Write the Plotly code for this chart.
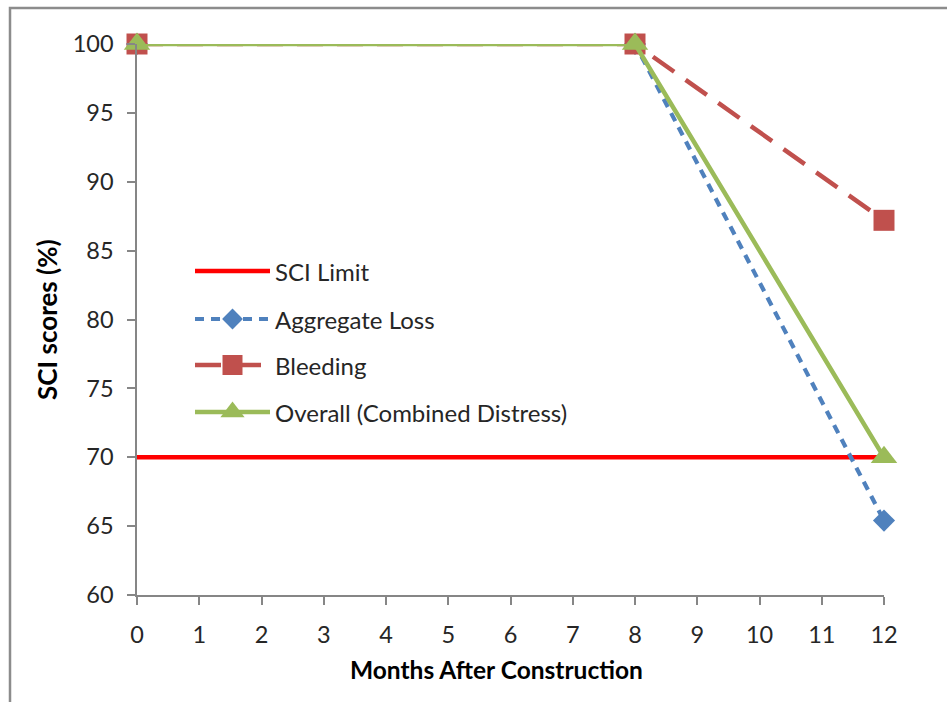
import plotly.graph_objects as go

# Survey data: months after construction and SCI scores (%)
months = [0, 8, 12]
aggregate_loss = [100, 100, 65.4]
bleeding = [100, 100, 87.2]
overall = [100, 100, 70]
sci_limit_months = [0, 12]
sci_limit = [70, 70]

x_ticks = list(range(0, 13))
y_ticks = list(range(60, 101, 5))

W, H = 947, 702
L, R, T, B = 137, 884, 44, 595  # plot area in pixels

FONT = "Lato, Carlito, Calibri, sans-serif"
AXIS_GRAY = "#868686"
TEXT = "#262626"

RED = "#FF0000"
BLUE = "#4F81BD"
BROWN = "#C0504D"
GREEN = "#9BBB59"

BLUE_DASH = "9px,7px"
BROWN_DASH = "26px,14px"

fig = go.Figure()

fig.add_trace(go.Scatter(x=sci_limit_months, y=sci_limit, mode="lines",
                         line=dict(color=RED, width=4.5), name="SCI Limit",
                         cliponaxis=False))
fig.add_trace(go.Scatter(x=months, y=aggregate_loss, mode="lines+markers",
                         line=dict(color=BLUE, width=4.2, dash=BLUE_DASH),
                         marker=dict(symbol="diamond", size=17, color=BLUE),
                         name="Aggregate Loss", cliponaxis=False))
fig.add_trace(go.Scatter(x=months, y=bleeding, mode="lines+markers",
                         line=dict(color=BROWN, width=4.5, dash=BROWN_DASH),
                         marker=dict(symbol="square", size=21, color=BROWN),
                         name="Bleeding", cliponaxis=False))
fig.add_trace(go.Scatter(x=months, y=overall, mode="lines+markers",
                         line=dict(color=GREEN, width=4.5),
                         marker=dict(symbol="triangle-up", size=23, color=GREEN),
                         name="Overall (Combined Distress)", cliponaxis=False))

# Legend drawn on an overlay axis spanning the plot area (0..1 in both directions)
def px_x(p):
    return (p - L) / (R - L)

def px_y(p):
    return (B - p) / (B - T)

legend_items = [
    ("SCI Limit", RED, 4.5, "solid", None, 0),
    ("Aggregate Loss", BLUE, 4.2, BLUE_DASH, "diamond", 16),
    ("Bleeding", BROWN, 4.5, BROWN_DASH, "square", 20),
    ("Overall (Combined Distress)", GREEN, 4.5, "solid", "triangle-up", 21),
]
legend_rows = [271, 319, 365, 412]
x0, x1, xt = 195, 270, 273
for (label, color, width, dash, symbol, size), row in zip(legend_items, legend_rows):
    fig.add_trace(go.Scatter(x=[px_x(x0), px_x(x1)], y=[px_y(row)] * 2,
                             mode="lines", line=dict(color=color, width=width, dash=dash),
                             xaxis="x2", yaxis="y2", showlegend=False, hoverinfo="skip"))
    if symbol:
        fig.add_trace(go.Scatter(x=[px_x((x0 + x1) / 2)], y=[px_y(row)], mode="markers",
                                 marker=dict(symbol=symbol, size=size, color=color),
                                 xaxis="x2", yaxis="y2", showlegend=False, hoverinfo="skip"))
    fig.add_annotation(x=px_x(xt), y=px_y(row), xref="x2", yref="y2", text=label,
                       showarrow=False, xanchor="left", yanchor="middle",
                       font=dict(family=FONT, size=24, color=TEXT))

# Axis titles
fig.add_annotation(x=px_x(496), y=px_y(669), xref="paper", yref="paper",
                   text="<b>Months After Construction</b>", showarrow=False,
                   xanchor="center", yanchor="middle",
                   font=dict(family=FONT, size=24.5, color="#000000"))
fig.add_annotation(x=px_x(47), y=px_y(320), xref="paper", yref="paper",
                   text="<b>SCI scores (%)</b>", showarrow=False, textangle=-90,
                   xanchor="center", yanchor="middle",
                   font=dict(family=FONT, size=26, color="#000000"))

# Outer chart frame
fig.add_shape(type="rect", xref="paper", yref="paper",
              x0=px_x(10), x1=px_x(W + 20), y0=px_y(H + 20), y1=px_y(8),
              line=dict(color="#8C8C8C", width=2.5), layer="below")

tick_font = dict(family=FONT, size=23.5, color=TEXT)
fig.update_layout(
    width=W, height=H,
    margin=dict(l=L, r=W - R, t=T, b=H - B),
    paper_bgcolor="white", plot_bgcolor="white",
    showlegend=False,
    font=dict(family=FONT, size=22, color=TEXT),
    xaxis=dict(range=[0, 12], tickvals=x_ticks, showgrid=False, zeroline=False,
               showline=True, linecolor=AXIS_GRAY, linewidth=1.5,
               ticks="outside", ticklen=8, tickcolor=AXIS_GRAY, tickwidth=1.5,
               ticklabelstandoff=10, tickfont=tick_font),
    yaxis=dict(range=[60, 100], tickvals=y_ticks, showgrid=False, zeroline=False,
               showline=True, linecolor=AXIS_GRAY, linewidth=1.5,
               ticks="outside", ticklen=8, tickcolor=AXIS_GRAY, tickwidth=1.5,
               ticklabelstandoff=9, tickfont=tick_font),
    xaxis2=dict(range=[0, 1], overlaying="x", visible=False, domain=[0, 1]),
    yaxis2=dict(range=[0, 1], overlaying="y", visible=False, anchor="x2"),
)

fig.write_html("out.html")
